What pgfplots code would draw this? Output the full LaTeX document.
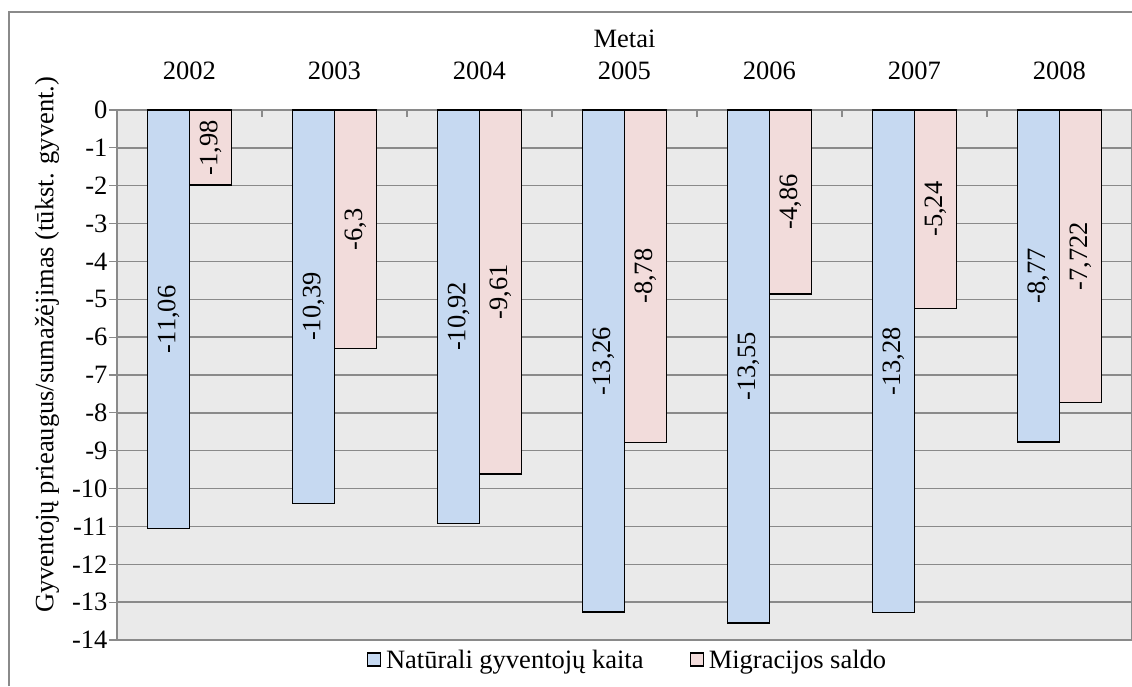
\documentclass[border=0pt]{standalone}
\usepackage{fontspec}
\setmainfont{Liberation Serif}
\usepackage{pgfplots}
\usepackage{pgfplotstable}
\pgfplotsset{compat=1.18}
\definecolor{bgc}{HTML}{EAEAEA}
\definecolor{natc}{HTML}{C6D9F1}
\definecolor{migc}{HTML}{F2DCDB}
\definecolor{gridc}{HTML}{8A8A8A}
\newcommand{\fs}{\fontsize{26.5}{31}\selectfont}
\pgfplotstableread{
x nat natlab mig miglab
0 -11.06 -11,06 -1.98 -1,98
1 -10.39 -10,39 -6.3 -6,3
2 -10.92 -10,92 -9.61 -9,61
3 -13.26 -13,26 -8.78 -8,78
4 -13.55 -13,55 -4.86 -4,86
5 -13.28 -13,28 -5.24 -5,24
6 -8.77 -8,77 -7.722 -7,722
}\data
\begin{document}
\begin{tikzpicture}
\draw[gridc, line width=1.2pt] (9pt,0pt) -- (9pt,674pt) -- (1132pt,674pt);
\begin{axis}[
 at={(117pt,46pt)}, anchor=south west,
 scale only axis, width=1015pt, height=530pt,
 xmin=-0.5, xmax=6.5, ymin=-14, ymax=0,
 axis background/.style={fill=bgc},
 axis line style={draw=gridc, line width=1.2pt},
 xtick={0,1,2,3,4,5,6},
 xticklabels={2002,2003,2004,2005,2006,2007,2008},
 xtick pos=right, xticklabel pos=right,
 major x tick style={draw=none},
 minor xtick={0.5,1.5,2.5,3.5,4.5,5.5,6.5},
 minor x tick style={draw=gridc, line width=1.2pt, yshift=-7pt},
 minor tick length=7pt,
 ytick={0,-1,-2,-3,-4,-5,-6,-7,-8,-9,-10,-11,-12,-13,-14},
 yticklabels={0,-1,-2,-3,-4,-5,-6,-7,-8,-9,-10,-11,-12,-13,-14},
 ytick pos=left,
 major tick length=8pt,
 tick align=outside,
 major y tick style={draw=gridc, line width=1.2pt},
 ymajorgrids, grid style={draw=gridc, line width=1.4pt},
 xticklabel style={font=\fs, anchor=base, yshift=22pt},
 yticklabel style={font=\fs, xshift=2pt},
 title=Metai,
 title style={at={(axis description cs:0.5,1.1057)}, anchor=base, font=\fs},
 ylabel={Gyventojų prieaugus/sumažėjimas (tūkst. gyvent.)},
 ylabel style={at={(axis description cs:-0.069,0.557)}, anchor=center, font=\fs},
 legend style={at={(axis description cs:0.503,-0.0377)}, anchor=center, draw=none, fill=none, legend columns=2, font=\fs,
   /tikz/every odd column/.append style={column sep=3pt},
   /tikz/every even column/.append style={column sep=44pt}},
]
\addplot[ybar, bar width=42pt, bar shift=-21pt, fill=natc, draw=black, line width=1.5pt,
  legend image code/.code={\draw[fill=natc, draw=black, line width=1.2pt] (0pt,-6pt) rectangle (13pt,7pt);}]
  table[x=x, y=nat] {\data};
\addlegendentry{Natūrali gyventojų kaita}
\addplot[ybar, bar width=42pt, bar shift=21pt, fill=migc, draw=black, line width=1.5pt,
  legend image code/.code={\draw[fill=migc, draw=black, line width=1.2pt] (0pt,-6pt) rectangle (13pt,7pt);}]
  table[x=x, y=mig] {\data};
\addlegendentry{Migracijos saldo}
\addplot[draw=none, mark=none, forget plot, nodes near coords, point meta=explicit symbolic,
  nodes near coords style={rotate=90, anchor=center, font=\fs, text=black}]
  table[x expr=\thisrow{x}-0.1448, y expr=\thisrow{nat}/2, meta=natlab] {\data};
\addplot[draw=none, mark=none, forget plot, nodes near coords, point meta=explicit symbolic,
  nodes near coords style={rotate=90, anchor=center, font=\fs, text=black}]
  table[x expr=\thisrow{x}+0.1448, y expr=\thisrow{mig}/2, meta=miglab] {\data};
\end{axis}
\pgfresetboundingbox
\useasboundingbox (0,0) rectangle (1132pt,686pt);
\end{tikzpicture}
\end{document}
